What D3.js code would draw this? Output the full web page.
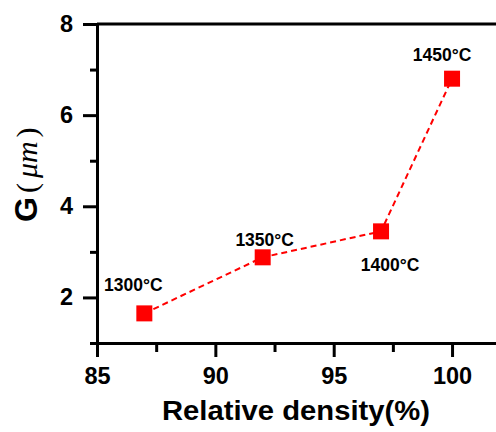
<!DOCTYPE html>
<html>
<head>
<meta charset="utf-8">
<script src="https://cdn.jsdelivr.net/npm/d3@7/dist/d3.min.js"></script>
<style>
  html, body { margin: 0; padding: 0; background: #fff; }
  svg { display: block; }
  text { font-family: "Liberation Sans", Arial, sans-serif; font-weight: bold; fill: #000; }
</style>
</head>
<body>
<svg id="chart" width="496" height="432"></svg>
<script>
// Sintering temperature vs. relative density and grain size
const density = [87, 92, 97, 100];
const grainSize = [1.65, 2.88, 3.45, 6.8];
const tempLabels = ["1300°C", "1350°C", "1400°C", "1450°C"];

const xMajorTicks = [85, 90, 95, 100];
const xMinorTicks = [87.5, 92.5, 97.5];
const yMajorTicks = [2, 4, 6, 8];
const yMinorTicks = [1, 3, 5, 7];

// label placement relative to each marker (dx, dy of text baseline centre)
const labelOffsets = [[-11, -22], [2, -11], [9, 40], [-10, -18]];

const svg = d3.select("#chart");
const x = d3.scaleLinear().domain([85, 102]).range([97, 97 + 17 * 23.67]);
const y = d3.scaleLinear().domain([1, 8]).range([343, 24]);

const axisStyle = g => {
  g.selectAll("path.domain").attr("stroke", "#000").attr("stroke-width", 3).attr("stroke-linecap", "square");
  g.selectAll(".tick line").attr("stroke", "#000").attr("stroke-width", 3);
  g.selectAll(".tick text").style("font-size", "23.5px").attr("fill", "#000");
};

// frame top edge
svg.append("line")
  .attr("x1", x(85)).attr("x2", x(102)).attr("y1", y(8)).attr("y2", y(8))
  .attr("stroke", "#000").attr("stroke-width", 3);

// x axis: minor ticks then major ticks with labels
svg.append("g").attr("transform", `translate(0,${y(1)})`)
  .call(d3.axisBottom(x).tickValues(xMinorTicks).tickSize(9).tickSizeOuter(0).tickFormat(""))
  .call(axisStyle);
svg.append("g").attr("transform", `translate(0,${y(1)})`)
  .call(d3.axisBottom(x).tickValues(xMajorTicks).tickSize(14).tickSizeOuter(0).tickPadding(10).tickFormat(d3.format("d")))
  .call(axisStyle);

// y axis
svg.append("g").attr("transform", `translate(${x(85)},0)`)
  .call(d3.axisLeft(y).tickValues(yMinorTicks).tickSize(7).tickSizeOuter(0).tickFormat(""))
  .call(axisStyle);
svg.append("g").attr("transform", `translate(${x(85)},0)`)
  .call(d3.axisLeft(y).tickValues(yMajorTicks).tickSize(14).tickSizeOuter(0).tickPadding(10).tickFormat(d3.format("d")))
  .call(axisStyle);

// x axis title
svg.append("text")
  .attr("x", 162).attr("y", 420)
  .attr("textLength", 268).attr("lengthAdjust", "spacingAndGlyphs")
  .style("font-size", "27px")
  .text("Relative density(%)");

// y axis title
const yt = svg.append("text")
  .attr("transform", "translate(37,222) rotate(-90)")
  .attr("text-anchor", "start");
yt.append("tspan").style("font-size", "32px").text("G");
yt.append("tspan").attr("dx", 4)
  .style("font-family", "'Liberation Serif', 'Times New Roman', serif").style("font-weight", "normal")
  .style("font-size", "30px").text("(");
yt.append("tspan").attr("dx", 5)
  .style("font-family", "'Liberation Serif', 'Times New Roman', serif").style("font-weight", "normal")
  .style("font-style", "italic").style("font-size", "30px").text("μm");
yt.append("tspan").attr("dx", 4)
  .style("font-family", "'Liberation Serif', 'Times New Roman', serif").style("font-weight", "normal")
  .style("font-size", "30px").text(")");

const pts = density.map((d, i) => ({ x: d, y: grainSize[i], label: tempLabels[i], off: labelOffsets[i] }));

// dashed connecting line
svg.append("path")
  .datum(pts)
  .attr("fill", "none")
  .attr("stroke", "#ff0000")
  .attr("stroke-width", 2)
  .attr("stroke-dasharray", "6,4")
  .attr("d", d3.line().x(d => x(d.x)).y(d => y(d.y)));

// square markers
const size = 16;
svg.selectAll("rect.pt").data(pts).enter().append("rect")
  .attr("class", "pt")
  .attr("x", d => x(d.x) - size / 2)
  .attr("y", d => y(d.y) - size / 2)
  .attr("width", size).attr("height", size)
  .attr("fill", "#ff0000");

// temperature labels
svg.selectAll("text.lbl").data(pts).enter().append("text")
  .attr("class", "lbl")
  .attr("text-anchor", "middle")
  .attr("x", d => x(d.x) + d.off[0])
  .attr("y", d => y(d.y) + d.off[1])
  .style("font-size", "17.5px")
  .text(d => d.label);
</script>
</body>
</html>
